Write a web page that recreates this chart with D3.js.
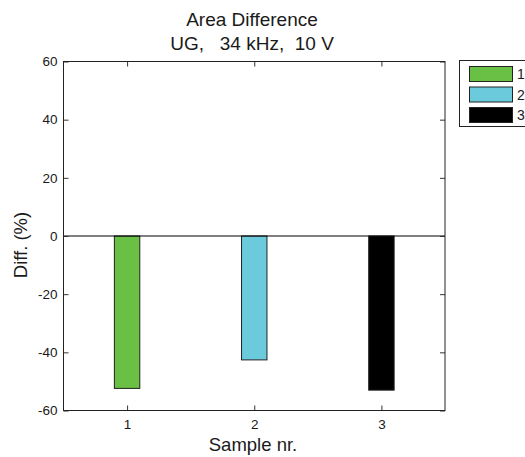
<!DOCTYPE html>
<html>
<head>
<meta charset="utf-8">
<script src="https://cdn.jsdelivr.net/npm/d3@7"></script>
<style>
  html, body { margin: 0; padding: 0; background: #fff; }
  svg { display: block; }
  text { font-family: "Liberation Sans", Arial, sans-serif; fill: #1a1a1a; }
</style>
</head>
<body>
<svg id="chart" width="525" height="457"></svg>
<script>
// ---- data ----
const categories = [1, 2, 3];
const values = [-52.4, -42.6, -53.0];
const seriesLabels = ["1", "2", "3"];
const colors = ["#6abf45", "#6bcbdc", "#000000"];
const yTicks = [-60, -40, -20, 0, 20, 40, 60];
const titleLines = ["Area Difference", "UG,   34 kHz,  10 V"];
const xLabel = "Sample nr.";
const yLabel = "Diff. (%)";

// ---- layout ----
const svg = d3.select("#chart");
const L = 63.5, R = 445, T = 61.5, B = 410.5;

const x = d3.scaleLinear().domain([0.5, 3.5]).range([L, R]);
const y = d3.scaleLinear().domain([-60, 60]).range([B, T]);
const barW = x(1.1) - x(0.9);

// plot background
svg.append("rect").attr("x", L).attr("y", T).attr("width", R - L).attr("height", B - T)
  .attr("fill", "#fff");

// bars
svg.append("g").selectAll("rect").data(categories).join("rect")
  .attr("x", (d) => x(d) - barW / 2)
  .attr("y", (d, i) => y(Math.max(0, values[i])))
  .attr("width", barW)
  .attr("height", (d, i) => Math.abs(y(values[i]) - y(0)))
  .attr("fill", (d, i) => colors[i])
  .attr("stroke", "#222")
  .attr("stroke-width", 1);

// zero baseline
svg.append("line").attr("x1", L).attr("x2", R).attr("y1", y(0)).attr("y2", y(0))
  .attr("stroke", "#000").attr("stroke-width", 1);

// axes (ticks inward, MATLAB box)
const tickLen = 5;
const fmt = (d) => String(d);
const axLeft = d3.axisLeft(y).tickValues(yTicks).tickSize(-tickLen).tickPadding(6).tickFormat(fmt);
const axRight = d3.axisRight(y).tickValues(yTicks).tickSize(-tickLen).tickFormat("");
const axBottom = d3.axisBottom(x).tickValues(categories).tickSize(-tickLen).tickPadding(9).tickFormat(fmt);
const axTop = d3.axisTop(x).tickValues(categories).tickSize(-tickLen).tickFormat("");

function style(g) {
  g.select(".domain").remove();
  g.selectAll(".tick line").attr("stroke", "#333");
  g.selectAll(".tick text").attr("font-size", 13.5).attr("fill", "#1a1a1a")
    .attr("font-family", "'Liberation Sans', Arial, sans-serif");
}
svg.append("g").attr("transform", `translate(${L},0)`).call(axLeft).call(style);
svg.append("g").attr("transform", `translate(${R},0)`).call(axRight).call(style);
svg.append("g").attr("transform", `translate(0,${B})`).call(axBottom).call(style);
svg.append("g").attr("transform", `translate(0,${T})`).call(axTop).call(style);

// box
svg.append("rect").attr("x", L).attr("y", T).attr("width", R - L).attr("height", B - T)
  .attr("fill", "none").attr("stroke", "#222").attr("stroke-width", 1);

// title
svg.append("g").selectAll("text").data(titleLines).join("text")
  .attr("x", 252).attr("y", (d, i) => 26 + i * 23.5)
  .attr("text-anchor", "middle").attr("font-size", 19)
  .style("white-space", "pre").attr("xml:space", "preserve")
  .text((d) => d);

// axis labels
svg.append("text").attr("x", 253).attr("y", 451).attr("text-anchor", "middle")
  .attr("font-size", 18.5).text(xLabel);
svg.append("text").attr("transform", "translate(27,245) rotate(-90)")
  .attr("text-anchor", "middle").attr("font-size", 18.5).text(yLabel);

// legend
const lg = svg.append("g");
lg.append("rect").attr("x", 459.5).attr("y", 60.5).attr("width", 80).attr("height", 66)
  .attr("fill", "#fff").attr("stroke", "#222").attr("stroke-width", 1);
const rowY = d3.scalePoint().domain(seriesLabels).range([66.5, 107.5]);
lg.selectAll("rect.sw").data(seriesLabels).join("rect").attr("class", "sw")
  .attr("x", 469.5).attr("y", (d) => rowY(d)).attr("width", 43).attr("height", 15)
  .attr("fill", (d, i) => colors[i]).attr("stroke", "#222").attr("stroke-width", 1);
lg.selectAll("text").data(seriesLabels).join("text")
  .attr("x", 517).attr("y", (d) => rowY(d) + 12.5).attr("font-size", 14).text((d) => d);
</script>
</body>
</html>
